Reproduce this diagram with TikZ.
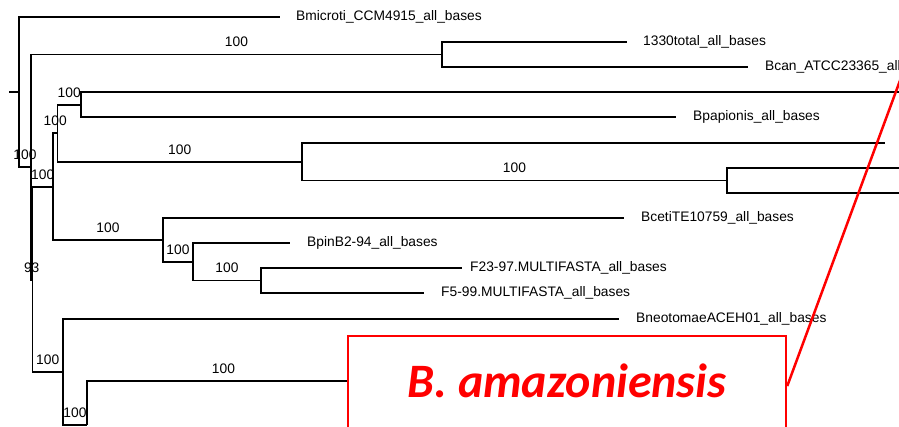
\documentclass[tikz,border=0pt]{standalone}
\usepackage{fontspec}
\setmainfont{Liberation Sans}
\newfontfamily\calloutfont{Carlito}
\usetikzlibrary{positioning}

\begin{document}
\begin{tikzpicture}[
    x=1pt, y=-1pt,
    node distance=17pt,
    every node/.style={font=\fontsize{13.8}{16}\selectfont},
    branch/.style={line width=1.3pt, black},
    taxon/.style={inner sep=0pt},
    boot/.style={above=7pt, inner sep=0pt},
    callout/.style={draw=red, line width=2.5pt, fill=white, text=red, inner sep=0pt,
      minimum width=438pt, minimum height=100pt, text depth=10pt,
      font=\calloutfont\fontsize{48}{56}\selectfont\bfseries\itshape},
    link/.style={red, line width=2.5pt}
  ]
    \useasboundingbox (0,0) rectangle (899,426);
    \clip (0,0) rectangle (899,426);

    \coordinate (root) at (9,92);
    \coordinate (n0) at (19,92);
    \coordinate (nA) at (31,167);
    \coordinate (nN1) at (442,54.5);
    \coordinate (nB) at (32.5,280);
    \coordinate (nC) at (53,187);
    \coordinate (nE) at (57.5,133);
    \coordinate (nF) at (81,105);
    \coordinate (nG) at (302,162);
    \coordinate (nH) at (727,180.5);
    \coordinate (nI) at (163,240);
    \coordinate (nJ) at (193,262);
    \coordinate (nK) at (261,280.5);
    \coordinate (nD) at (63,372);
    \coordinate (nL) at (87,425);
    \coordinate (nM) at (360,381);

    \coordinate (micro) at (280,17);
    \coordinate (total) at (627,42);
    \coordinate (can) at (748,67);
    \coordinate (long_a) at (905,92);
    \coordinate (papio) at (676,117);
    \coordinate (long_b) at (885,143);
    \coordinate (long_c) at (905,168);
    \coordinate (long_d) at (905,193);
    \coordinate (ceti) at (624,218);
    \coordinate (pin) at (290,243);
    \coordinate (f23) at (462,268);
    \coordinate (f5) at (424,293);
    \coordinate (neo) at (619,319);

    \draw[branch] (root) -- (n0);
    \draw[branch] (n0) |- (micro);
    \draw[branch] (n0) |- node[boot, pos=0.75] {100} (nA);
    \draw[branch] (nA) |- node[boot, pos=0.75] {100} (nN1);
    \draw[branch] (nN1) |- (total) (nN1) |- (can);
    \draw[branch] (nA) |- node[boot, pos=0.75] {93} (nB);
    \draw[branch] (nB) |- node[boot, pos=0.75] {100} (nC);
    \draw[branch] (nC) |- node[boot, pos=0.75] {100} (nE);
    \draw[branch] (nE) |- node[boot, pos=0.75] {100} (nF);
    \draw[branch] (nF) |- (long_a) (nF) |- (papio);
    \draw[branch] (nE) |- node[boot, pos=0.75] {100} (nG);
    \draw[branch] (nG) |- (long_b);
    \draw[branch] (nG) |- node[boot, pos=0.75] {100} (nH);
    \draw[branch] (nH) |- (long_c) (nH) |- (long_d);
    \draw[branch] (nC) |- node[boot, pos=0.75] {100} (nI);
    \draw[branch] (nI) |- (ceti);
    \draw[branch] (nI) |- node[boot, pos=0.75] {100} (nJ);
    \draw[branch] (nJ) |- (pin);
    \draw[branch] (nJ) |- node[boot, pos=0.75] {100} (nK);
    \draw[branch] (nK) |- (f23) (nK) |- (f5);
    \draw[branch] (nB) |- node[boot, pos=0.75] {100} (nD);
    \draw[branch] (nD) |- (neo);
    \draw[branch] (nD) |- node[boot, pos=0.75] {100} (nL);
    \draw[branch] (nL) |- node[boot, pos=0.75] {100} (nM);

    \node[taxon, right=16pt of micro] (micro_lbl) {Bmicroti\_CCM4915\_all\_bases};
    \node[taxon, right=16pt of total] (total_lbl) {1330total\_all\_bases};
    \node[taxon, right=of can] (can_lbl) {Bcan\_ATCC23365\_all};
    \node[taxon, right=of papio] (papio_lbl) {Bpapionis\_all\_bases};
    \node[taxon, right=of ceti] (ceti_lbl) {BcetiTE10759\_all\_bases};
    \node[taxon, right=of pin] (pin_lbl) {BpinB2-94\_all\_bases};
    \node[taxon, right=8pt of f23] (f23_lbl) {F23-97.MULTIFASTA\_all\_bases};
    \node[taxon, right=of f5] (f5_lbl) {F5-99.MULTIFASTA\_all\_bases};
    \node[taxon, right=of neo] (neo_lbl) {BneotomaeACEH01\_all\_bases};

    \node[callout] (amaz) at (567,386) {B. amazoniensis};
    \coordinate (amaz_link) at (905,67);
    \draw[link] (amaz.east) -- (amaz_link);
  \end{tikzpicture}
\end{document}
